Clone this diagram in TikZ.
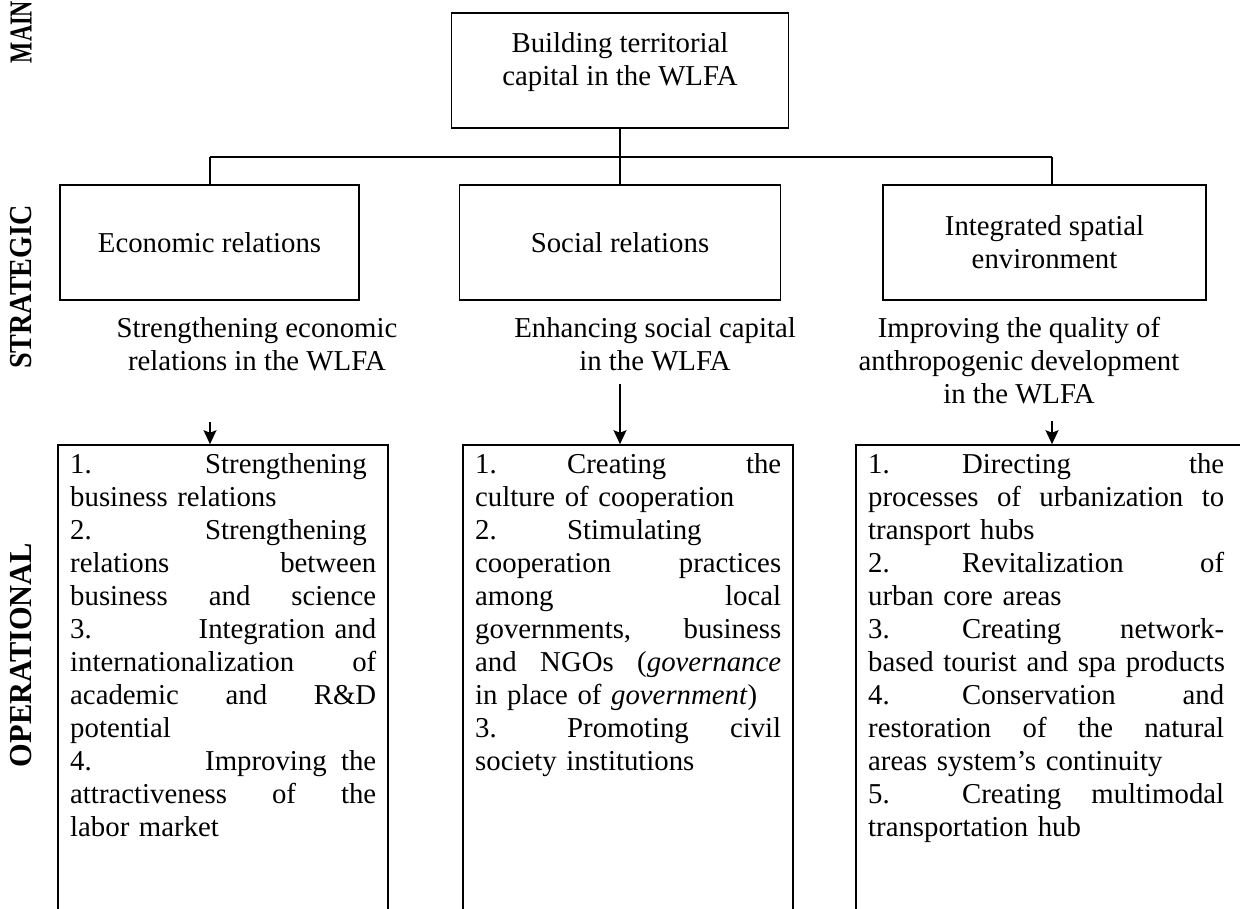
\documentclass[tikz,border=0pt]{standalone}
\usepackage{fontspec}
\setmainfont{Liberation Serif}
\usetikzlibrary{arrows.meta}
\newcommand\jl[1]{\hbox to \hsize{\strut#1}}
\begin{document}
\begin{tikzpicture}[x=1pt,y=-1pt,
  every node/.style={font=\fontsize{28.8}{33}\selectfont, inner sep=0pt},
  box/.style={draw, line width=1.6pt, rectangle},
  conn/.style={line width=1.6pt},
  arr/.style={line width=1.6pt, -{Stealth[length=14pt,width=13pt,inset=2.5pt]}},
  lbl/.style={font=\fontsize{32}{36}\selectfont\bfseries, rotate=90},
  optxt/.style={anchor=north west, align=left},
  ctxt/.style={anchor=north, align=center}
]
\useasboundingbox (0,0) rectangle (1240,909);
\clip (0,0) rectangle (1240,909);

% side labels
\node[lbl] (lmain) at (21,32) {\scalebox{0.7}[1]{MAIN}};
\node[lbl] (lstrat) at (21,287) {\scalebox{0.88}[1]{STRATEGIC}};
\node[lbl] (lop) at (21,655) {\scalebox{0.95}[1]{OPERATIONAL}};

% main box
\node[box, minimum width=337pt, minimum height=115pt] (main) at (620,70.5) {};
\node[ctxt] (maintxt) at (620,32.5) {Building territorial\\capital in the WLFA};

% strategic boxes
\node[box, minimum width=299pt, minimum height=115pt, align=center] (s1) at (209.5,242.5) {Economic relations};
\node[box, minimum width=321pt, minimum height=115pt, align=center] (s2) at (620,242.5) {Social relations};
\node[box, minimum width=323pt, minimum height=115pt, align=center] (s3) at (1044.5,242.5) {Integrated spatial\\environment};

% connectors
\coordinate (jl) at (210,157);
\coordinate (jm) at (620,157);
\coordinate (jr) at (1052,157);
\draw[conn] (main.south) -- (jm);
\draw[conn] (jl) -- (jr);
\draw[conn] (jl) -- (jl |- s1.north);
\draw[conn] (jm) -- (jm |- s2.north);
\draw[conn] (jr) -- (jr |- s3.north);

% strategic goals text
\node[ctxt] (t1) at (257,317.3) {Strengthening economic\\relations in the WLFA};
\node[ctxt] (t2) at (655,317.3) {Enhancing social capital\\in the WLFA};
\node[ctxt] (t3) at (1019,317.3) {Improving the quality of\\anthropogenic development\\in the WLFA};

% operational boxes
\node[box, minimum width=330pt, minimum height=515pt] (o1) at (223,702.5) {};
\node[box, minimum width=330pt, minimum height=515pt] (o2) at (628,702.5) {};
\node[box, minimum width=414pt, minimum height=515pt] (o3) at (1063,702.5) {};

% arrows
\coordinate (a1) at (210,422);
\coordinate (a2) at (620,384);
\coordinate (a3) at (1052,421);
\draw[arr] (a1) -- (a1 |- o1.north);
\draw[arr] (a2) -- (a2 |- o2.north);
\draw[arr] (a3) -- (a3 |- o3.north);

% operational texts
\node[optxt, text width=306pt] (p1) at (70,449.9) {%
\jl{\makebox[135pt][l]{1.}Strengthening\hfil}
\jl{business relations\hfil}
\jl{\makebox[135pt][l]{2.}Strengthening\hfil}
\jl{relations\hfill between}
\jl{business\hfill and\hfill science}
\jl{3.\hfill Integration and}
\jl{internationalization\hfill of}
\jl{academic\hfill and\hfill R\&D}
\jl{potential\hfil}
\jl{\makebox[135pt][l]{4.}Improving\hfill the}
\jl{attractiveness\hfill of\hfill the}
\jl{labor market\hfil}};

\node[optxt, text width=306pt] (p2) at (475,449.9) {%
\jl{\makebox[92pt][l]{1.}Creating\hfill the}
\jl{culture of cooperation\hfil}
\jl{\makebox[92pt][l]{2.}Stimulating\hfil}
\jl{cooperation\hfill practices}
\jl{among\hfill local}
\jl{governments,\hfill business}
\jl{and\hfill NGOs\hfill (\textit{governance}}
\jl{in place of \textit{government})\hfil}
\jl{\makebox[92pt][l]{3.}Promoting\hfill civil}
\jl{society institutions\hfil}};

\node[optxt, text width=356pt] (p3) at (868,449.9) {%
\jl{\makebox[94pt][l]{1.}Directing\hfill the}
\jl{processes\hfill of\hfill urbanization\hfill to}
\jl{transport hubs\hfil}
\jl{\makebox[94pt][l]{2.}Revitalization\hfill of}
\jl{urban core areas\hfil}
\jl{\makebox[94pt][l]{3.}Creating\hfill network-}
\jl{based tourist and spa products\hfil}
\jl{\makebox[94pt][l]{4.}Conservation\hfill and}
\jl{restoration\hfill of\hfill the\hfill natural}
\jl{areas system’s continuity\hfil}
\jl{\makebox[94pt][l]{5.}Creating\hfill multimodal}
\jl{transportation hub\hfil}};
\end{tikzpicture}
\end{document}
